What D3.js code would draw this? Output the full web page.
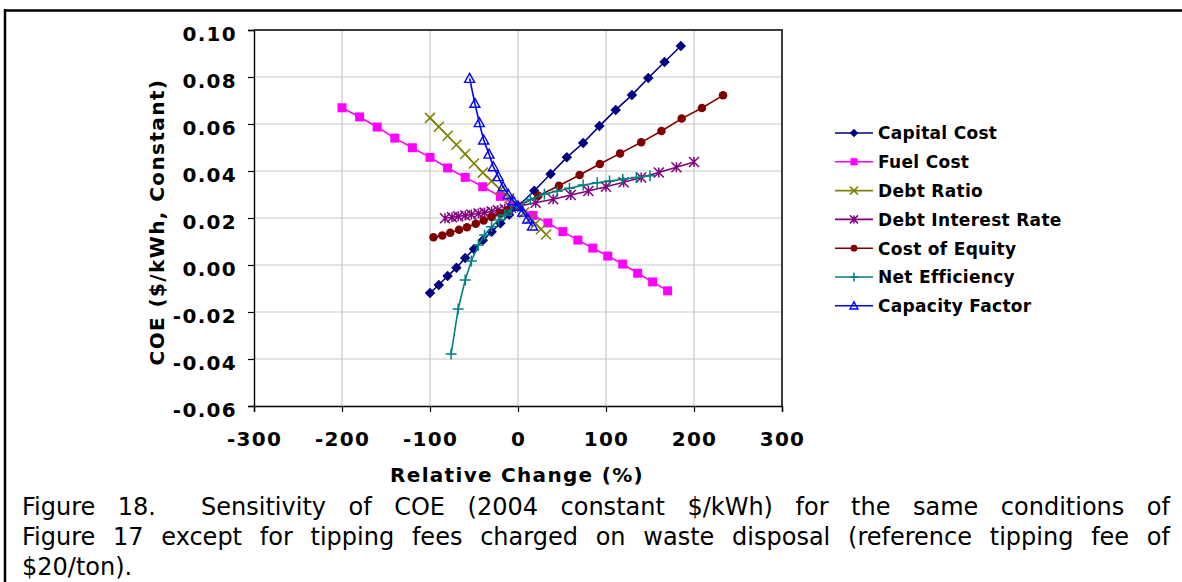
<!DOCTYPE html>
<html>
<head>
<meta charset="utf-8">
<script src="https://cdn.jsdelivr.net/npm/d3@7"></script>
<style>
body { margin: 0; background: #fff; }
svg { display: block; }
</style>
</head>
<body>
<svg id="chart" width="1182" height="582"></svg>
<script>
// legend / series order
var seriesNames = ["Capital Cost", "Fuel Cost", "Debt Ratio", "Debt Interest Rate",
                   "Cost of Equity", "Net Efficiency", "Capacity Factor"];

// values (x = relative change %, y = COE $/kWh)
var capitalCostX = [-100,-90,-80,-70,-60,-50,-40,-30,-20,-10,0,18.5,37,55.5,74,92.5,111,129.5,148,166.5,185];
var capitalCostY = [-0.0119,-0.0085,-0.0047,-0.0012,0.0030,0.0068,0.0105,0.0141,0.0178,0.0214,0.0250,0.0316,0.0387,0.0458,0.0519,0.0591,0.0660,0.0723,0.0796,0.0864,0.0932];

var fuelCostX = [-200,-180,-160,-140,-120,-100,-80,-60,-40,-20,0,17,34,51,68,85,102,119,136,153,170];
var fuelCostY = [0.0669,0.0630,0.0587,0.0540,0.0499,0.0458,0.0413,0.0373,0.0333,0.0292,0.0250,0.0211,0.0179,0.0142,0.0106,0.0072,0.0038,0.0004,-0.0035,-0.0072,-0.0110];

var debtRatioX = [-100,-90,-80,-70,-60,-50,-40,-30,-20,-10,0,7,14,20,26,32];
var debtRatioY = [0.0626,0.0588,0.0550,0.0512,0.0472,0.0432,0.0393,0.0357,0.0320,0.0284,0.0250,0.0224,0.0198,0.0176,0.0152,0.0130];

var debtInterestX = [-83,-75,-68,-60,-53,-45,-38,-30,-23,-15,-8,0,20,40,60,80,100,120,140,160,180,200];
var debtInterestY = [0.0199,0.0203,0.0207,0.0211,0.0215,0.0219,0.0223,0.0228,0.0233,0.0238,0.0244,0.0250,0.0265,0.0280,0.0298,0.0315,0.0333,0.0352,0.0372,0.0394,0.0416,0.0438];

var costEquityX = [-96,-86,-77,-67,-58,-48,-39,-30,-20,-11,0,23,46.5,70,93,116,140,163,186,209,233];
var costEquityY = [0.0118,0.0126,0.0137,0.0150,0.0161,0.0176,0.0189,0.0204,0.0220,0.0235,0.0250,0.0295,0.0337,0.0383,0.0430,0.0475,0.0522,0.0570,0.0623,0.0668,0.0722];

var netEffX = [-76,-68,-60,-53,-45,-38,-30,-22,-15,-8,0,14,30,44.5,58.5,74,90,104,119,134.5,150];
var netEffY = [-0.0379,-0.0187,-0.0064,0.0017,0.0085,0.0128,0.0163,0.0192,0.0213,0.0232,0.0250,0.0279,0.0302,0.0314,0.0327,0.0340,0.0350,0.0357,0.0365,0.0372,0.0380];

var capFactorX = [-55,-49,-44,-39,-33,-28,-22.5,-17,-11,-5.5,0,5.5,11,16.5];
var capFactorY = [0.0794,0.0688,0.0606,0.0532,0.0472,0.0418,0.0376,0.0333,0.0300,0.0274,0.0250,0.0225,0.0196,0.0166];

var xTicks = [-300,-200,-100,0,100,200,300];
var yTicks = [-0.06,-0.04,-0.02,0.00,0.02,0.04,0.06,0.08,0.10];

var xTitle = "Relative Change (%)";
var yTitle = "COE ($/kWh, Constant)";
var captionLines = [
  "Figure 18.  Sensitivity of COE (2004 constant $/kWh) for the same conditions of",
  "Figure 17 except for tipping fees charged on waste disposal (reference tipping fee of",
  "$20/ton)."
];

// styles, one per series
var colors  = ["#000080", "#ff00ff", "#808000", "#800080", "#800000", "#008080", "#0000ff"];
var markers = ["diamond", "square", "x", "asterisk", "circle", "plus", "triangle"];

var seriesData = [
  d3.zip(capitalCostX, capitalCostY),
  d3.zip(fuelCostX, fuelCostY),
  d3.zip(debtRatioX, debtRatioY),
  d3.zip(debtInterestX, debtInterestY),
  d3.zip(costEquityX, costEquityY),
  d3.zip(netEffX, netEffY),
  d3.zip(capFactorX, capFactorY)
];

var plot = {left: 254, right: 782, top: 30, bottom: 406};
var boldFont = "'DejaVu Sans', Verdana, sans-serif";

var svg = d3.select("#chart");

// outer frame (top and left only)
svg.append("line").attr("x1", 4).attr("x2", 1182).attr("y1", 10.5).attr("y2", 10.5)
  .attr("stroke", "#000").attr("stroke-width", 2.5);
svg.append("line").attr("x1", 5).attr("x2", 5).attr("y1", 9).attr("y2", 582)
  .attr("stroke", "#000").attr("stroke-width", 2.5);

var x = d3.scaleLinear().domain([-300, 300]).range([plot.left, plot.right]);
var y = d3.scaleLinear().domain([-0.06, 0.10]).range([plot.bottom, plot.top]);

// grid
var grid = svg.append("g").attr("class", "grid");
grid.selectAll(".vg").data(xTicks.slice(1, -1)).enter().append("line")
  .attr("x1", function(d) { return x(d); }).attr("x2", function(d) { return x(d); })
  .attr("y1", plot.top).attr("y2", plot.bottom)
  .attr("stroke", "#c8c8c8").attr("stroke-width", 1.2);
grid.selectAll(".hg").data(yTicks.slice(1, -1)).enter().append("line")
  .attr("x1", plot.left).attr("x2", plot.right)
  .attr("y1", function(d) { return y(d); }).attr("y2", function(d) { return y(d); })
  .attr("stroke", "#c8c8c8").attr("stroke-width", 1.2);

// plot area border (top + right)
svg.append("path")
  .attr("d", "M" + plot.left + "," + plot.top + "H" + plot.right + "V" + plot.bottom)
  .attr("fill", "none").attr("stroke", "#3a3a3a").attr("stroke-width", 2);

// axes
var yAxis = d3.axisLeft(y).tickValues(yTicks).tickSize(6).tickPadding(11)
  .tickFormat(function(d) { return d.toFixed(2); });
var xAxis = d3.axisBottom(x).tickValues(xTicks).tickSize(6).tickPadding(20)
  .tickFormat(function(d) { return String(d); });

var gy = svg.append("g").attr("transform", "translate(" + plot.left + ",0)").call(yAxis);
var gx = svg.append("g").attr("transform", "translate(0," + plot.bottom + ")").call(xAxis);

[gx, gy].forEach(function(g) {
  g.select(".domain").attr("stroke", "#000").attr("stroke-width", 1.4);
  g.selectAll(".tick line").attr("stroke", "#000").attr("stroke-width", 1.2);
  g.selectAll(".tick text")
    .attr("fill", "#000")
    .style("font-family", boldFont)
    .style("font-weight", "bold")
    .style("font-size", "20px")
    .style("letter-spacing", "1.3px");
});
gy.selectAll(".tick text").attr("dy", "0.5em");

// axis titles
svg.append("text")
  .attr("x", 517).attr("y", 482)
  .attr("text-anchor", "middle")
  .style("font-family", boldFont).style("font-weight", "bold")
  .style("font-size", "20px").style("letter-spacing", "1.3px")
  .text(xTitle);

svg.append("text")
  .attr("transform", "translate(164,222) rotate(-90)")
  .attr("text-anchor", "middle")
  .style("font-family", boldFont).style("font-weight", "bold")
  .style("font-size", "20px").style("letter-spacing", "1.4px")
  .text(yTitle);

// marker shapes
function markerPath(type, s) {
  var h = s / 2;
  switch (type) {
    case "diamond":  return "M0," + (-h) + "L" + h + ",0L0," + h + "L" + (-h) + ",0Z";
    case "square":   return "M" + (-h) + "," + (-h) + "h" + s + "v" + s + "h" + (-s) + "Z";
    case "x":        return "M" + (-h) + "," + (-h) + "L" + h + "," + h + "M" + (-h) + "," + h + "L" + h + "," + (-h);
    case "plus":     return "M" + (-h) + ",0H" + h + "M0," + (-h) + "V" + h;
    case "asterisk": return "M" + (-h) + "," + (-h) + "L" + h + "," + h + "M" + (-h) + "," + h + "L" + h + "," + (-h) + "M0," + (-h) + "V" + h;
    case "triangle": return "M0," + (-h) + "L" + h + "," + (h * 0.8) + "L" + (-h) + "," + (h * 0.8) + "Z";
  }
  return "";
}

function drawMarker(g, type, color, s) {
  if (type === "circle") {
    g.append("circle").attr("r", s / 2).attr("fill", color);
  } else if (type === "diamond" || type === "square") {
    g.append("path").attr("d", markerPath(type, s)).attr("fill", color);
  } else if (type === "triangle") {
    g.append("path").attr("d", markerPath(type, s)).attr("fill", "none")
      .attr("stroke", color).attr("stroke-width", 1.4);
  } else {
    g.append("path").attr("d", markerPath(type, s)).attr("fill", "none")
      .attr("stroke", color).attr("stroke-width", 1.5);
  }
}

var markerSize = [10.5, 9, 10, 10, 8.5, 11, 10];

var line = d3.line()
  .x(function(d) { return x(d[0]); })
  .y(function(d) { return y(d[1]); });

seriesData.forEach(function(data, i) {
  var g = svg.append("g").attr("class", "series");
  g.append("path").datum(data)
    .attr("d", line)
    .attr("fill", "none")
    .attr("stroke", colors[i])
    .attr("stroke-width", 1.6);
  g.selectAll(".pt").data(data).enter().append("g")
    .attr("transform", function(d) { return "translate(" + x(d[0]) + "," + y(d[1]) + ")"; })
    .each(function() { drawMarker(d3.select(this), markers[i], colors[i], markerSize[i]); });
});

// legend
var legend = svg.append("g").attr("transform", "translate(835,133)");
seriesNames.forEach(function(name, i) {
  var row = legend.append("g").attr("transform", "translate(0," + (i * 28.8) + ")");
  row.append("line").attr("x1", 0).attr("x2", 38).attr("y1", 0).attr("y2", 0)
    .attr("stroke", colors[i]).attr("stroke-width", 1.6);
  var m = row.append("g").attr("transform", "translate(19,0)");
  drawMarker(m, markers[i], colors[i], markerSize[i] * 0.8);
  row.append("text")
    .attr("x", 43).attr("y", 6.3)
    .style("font-family", boldFont).style("font-weight", "bold")
    .style("font-size", "17px").style("letter-spacing", "0.3px")
    .text(name);
});

// caption, justified like the source document
var capLeft = 22, capRight = 1170;
var capBase = [515, 545, 575];
captionLines.forEach(function(txt, li) {
  var words = txt.split(" ");
  var justify = li < captionLines.length - 1;
  var g = svg.append("g");
  var nodes = words.map(function(w) {
    return g.append("text")
      .attr("y", capBase[li])
      .style("font-family", "'DejaVu Sans', Verdana, sans-serif")
      .style("font-size", "24px")
      .attr("fill", "#000")
      .text(w);
  });
  var widths = nodes.map(function(n) { return n.node().getComputedTextLength(); });
  var total = d3.sum(widths);
  var gap = justify ? (capRight - capLeft - total) / (words.length - 1) : 7;
  var cx = capLeft;
  nodes.forEach(function(n, k) {
    n.attr("x", cx);
    cx += widths[k] + gap;
  });
});
</script>
</body>
</html>
